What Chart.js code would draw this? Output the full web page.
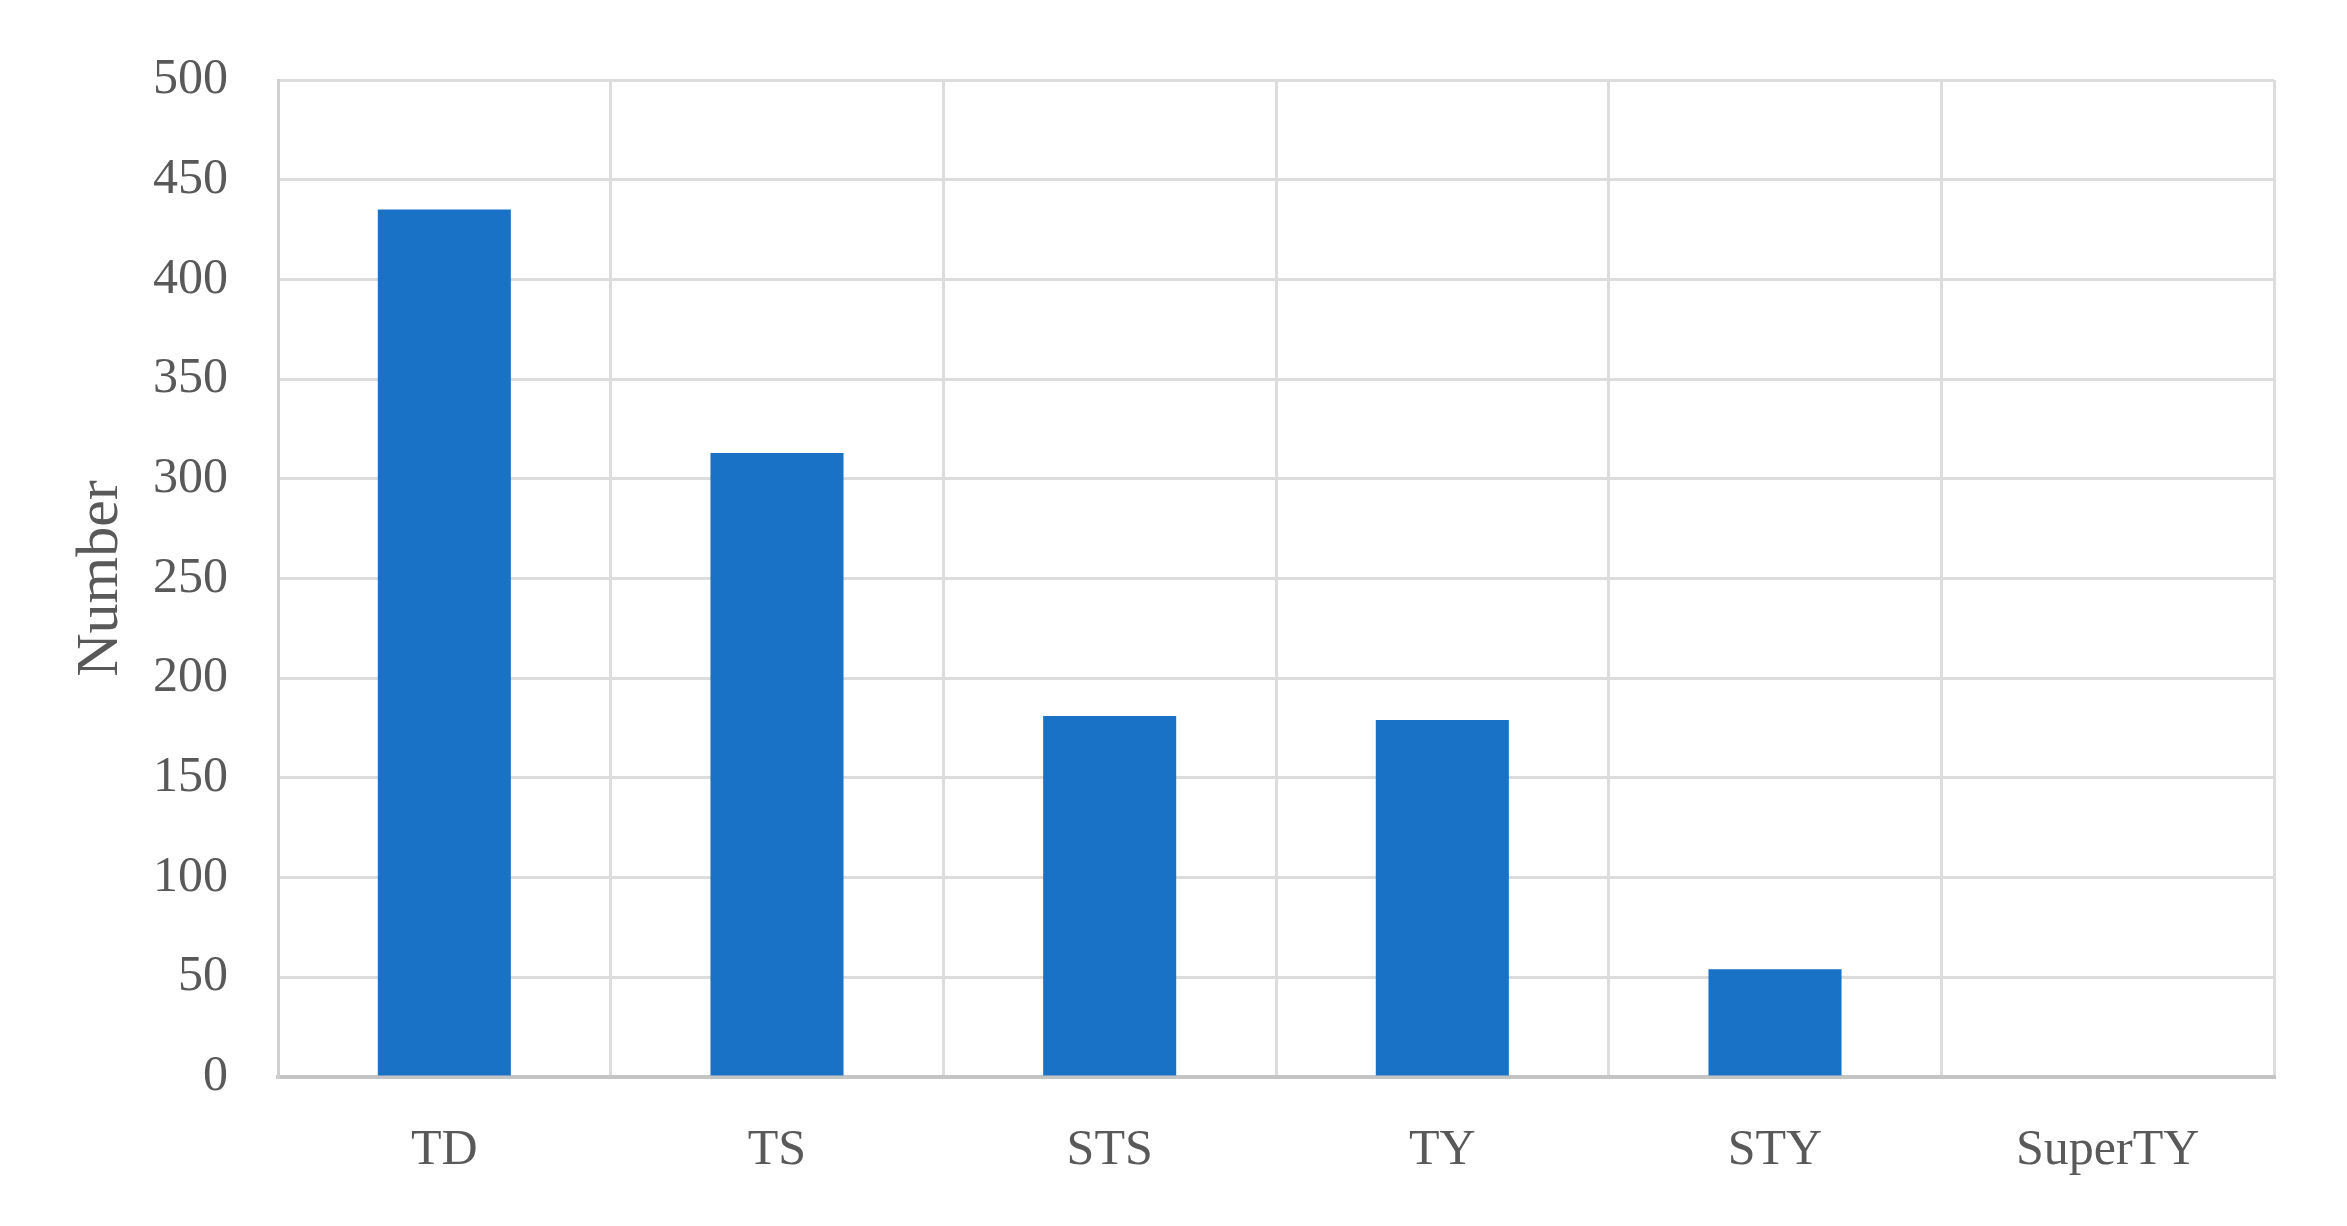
<!DOCTYPE html>
<html>
<head>
<meta charset="utf-8">
<title>Number by intensity class</title>
<script src="https://cdn.jsdelivr.net/npm/chart.js@4/dist/chart.umd.min.js"></script>
<style>
    html, body { margin: 0; padding: 0; background: #ffffff; }
    #chart-wrap { width: 2347px; height: 1226px; }
</style>
</head>
<body>
<div id="chart-wrap"><canvas id="intensityChart"></canvas></div>
<script>
// --- data ---
const categories = ['TD', 'TS', 'STS', 'TY', 'STY', 'SuperTY'];
const counts = [435, 313, 181, 179, 54, 0];
const yTicks = [0, 50, 100, 150, 200, 250, 300, 350, 400, 450, 500];

const textColor = '#595959';
const gridColor = '#dcdcdc';
const fontFamily = '"Liberation Serif", "DejaVu Serif", serif';

document.addEventListener('DOMContentLoaded', () => {
    const ctx = document.getElementById('intensityChart');

    new Chart(ctx, {
        type: 'bar',
        data: {
            labels: categories,
            datasets: [{
                label: 'Number',
                data: counts,
                backgroundColor: '#1a72c6',
                borderWidth: 0,
                barPercentage: 0.4,
                categoryPercentage: 1.0
            }]
        },
        options: {
            responsive: true,
            maintainAspectRatio: false,
            animation: false,
            layout: { padding: { top: 79, right: 73, bottom: 49, left: 0 } },
            plugins: {
                legend: { display: false },
                tooltip: { enabled: false }
            },
            scales: {
                x: {
                    grid: { color: gridColor, lineWidth: 3, drawTicks: false },
                    border: { color: '#c4c4c4', width: 4 },
                    ticks: {
                        color: textColor,
                        padding: 44,
                        font: { family: fontFamily, size: 50 }
                    },
                    afterFit: (scale) => { scale.height = 100; }
                },
                y: {
                    min: 0,
                    max: 500,
                    afterBuildTicks: (scale) => {
                        scale.ticks = yTicks.map(v => ({ value: v }));
                    },
                    grid: { color: gridColor, lineWidth: 3, drawTicks: false },
                    border: { color: '#d0d0d0', width: 3 },
                    ticks: {
                        color: textColor,
                        padding: 50,
                        font: { family: fontFamily, size: 50 }
                    },
                    title: {
                        display: true,
                        text: 'Number',
                        color: textColor,
                        padding: { top: 65, bottom: 0 },
                        font: { family: fontFamily, size: 60 }
                    },
                    afterFit: (scale) => { scale.width = 278; }
                }
            }
        }
    });
});
</script>
</body>
</html>
